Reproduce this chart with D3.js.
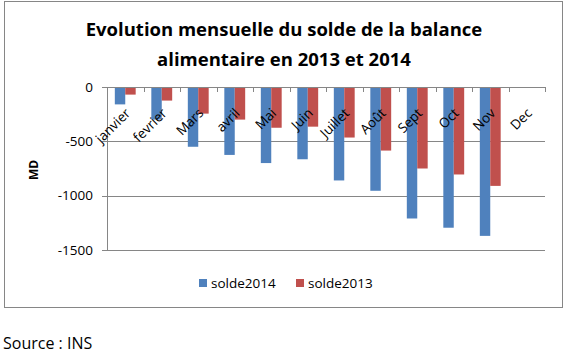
<!DOCTYPE html>
<html>
<head>
<meta charset="utf-8">
<script src="https://cdn.jsdelivr.net/npm/d3@7"></script>
<style>
  body { margin: 0; background: #fff; }
  svg text { font-family: "Open Sans", sans-serif; fill: #000; }
  .axis path, .axis line { stroke: #868686; shape-rendering: crispEdges; }
  .grid line { stroke: #868686; shape-rendering: crispEdges; }
  .grid path { display: none; }
</style>
</head>
<body>
<div id="chart"></div>
<script>
// data (MD)
var months = ["janvier", "fevrier", "Mars", "avril", "Mai", "Juin", "Juillet", "Août", "Sept", "Oct", "Nov", "Dec"];
var solde2014 = [-160, -300, -550, -625, -700, -665, -860, -955, -1210, -1295, -1370, null];
var solde2013 = [-70, -125, -245, -300, -375, -365, -465, -585, -750, -805, -910, null];
var seriesNames = ["solde2014", "solde2013"];
var yTicks = [0, -500, -1000, -1500];

var COLORS = { solde2014: "#4F81BD", solde2013: "#C0504D" };

var width = 565;
var height = 353;
var margins = { top: 87, right: 20, bottom: 103, left: 107 };
var chartWidth = 545 - margins.left;
var chartHeight = 250 - margins.top;

var svg = d3.select("#chart")
  .append("svg")
  .attr("width", width)
  .attr("height", height);

// outer frame
svg.append("rect")
  .attr("x", 4.5)
  .attr("y", 1.5)
  .attr("width", 558)
  .attr("height", 306)
  .attr("fill", "none")
  .attr("stroke", "#868686");

// title
var title = svg.append("text")
  .attr("text-anchor", "middle")
  .style("font-weight", "bold")
  .style("font-size", "18.5px");
title.append("tspan").attr("x", 284).attr("y", 36).text("Evolution mensuelle du solde de la balance");
title.append("tspan").attr("x", 284).attr("y", 66).text("alimentaire en 2013 et 2014");

var chartElement = svg.append("g")
  .attr("transform", `translate(${margins.left},${margins.top})`);

var xScale = d3.scaleBand()
  .domain(months)
  .range([0, chartWidth]);

var xInner = d3.scaleBand()
  .domain(seriesNames)
  .range([0, xScale.bandwidth()])
  .paddingOuter(0.75);

var yScale = d3.scaleLinear()
  .domain([-1500, 0])
  .range([chartHeight, 0]);

// grid
chartElement.append("g")
  .attr("class", "grid")
  .call(d3.axisLeft(yScale).tickValues(yTicks).tickSize(-chartWidth).tickFormat(""));

// bars
var groups = chartElement.append("g")
  .selectAll("g")
  .data(months)
  .enter()
  .append("g")
  .attr("transform", d => `translate(${xScale(d)},0)`);

groups.selectAll("rect")
  .data((d, i) => seriesNames.map(name => ({
    name: name,
    value: name == "solde2014" ? solde2014[i] : solde2013[i]
  })).filter(v => v.value != null))
  .enter()
  .append("rect")
  .attr("x", d => xInner(d.name))
  .attr("y", yScale(0))
  .attr("width", xInner.bandwidth())
  .attr("height", d => yScale(d.value) - yScale(0))
  .attr("fill", d => COLORS[d.name]);

// y axis
var yAxis = chartElement.append("g")
  .attr("class", "y axis")
  .call(d3.axisLeft(yScale)
    .tickValues(yTicks)
    .tickSize(5)
    .tickSizeOuter(0)
    .tickPadding(9)
    .tickFormat(d => String(d)));
yAxis.selectAll("text").style("font-size", "13.5px");

// x axis, ticks on category boundaries, going down
var xAxisG = chartElement.append("g").attr("class", "x axis");
xAxisG.append("line")
  .attr("x1", 0).attr("x2", chartWidth)
  .attr("y1", yScale(0) + 0.5).attr("y2", yScale(0) + 0.5);
xAxisG.selectAll(".tick-mark")
  .data(months.concat(["end"]))
  .enter()
  .append("line")
  .attr("class", "tick-mark")
  .attr("x1", (d, i) => i * xScale.step() + 0.5)
  .attr("x2", (d, i) => i * xScale.step() + 0.5)
  .attr("y1", yScale(0))
  .attr("y2", yScale(0) + 5);

xAxisG.selectAll(".month")
  .data(months)
  .enter()
  .append("text")
  .attr("class", "month")
  .attr("text-anchor", "end")
  .style("font-size", "13.5px")
  .attr("transform", d => `translate(${xScale(d) + xScale.bandwidth() / 2 + 6},${yScale(0) + 27}) rotate(-45)`)
  .text(d => d);

// axis title
svg.append("text")
  .attr("transform", "translate(38,170) rotate(-90)")
  .attr("text-anchor", "middle")
  .style("font-weight", "bold")
  .style("font-size", "12px")
  .text("MD");

// legend
var legend = svg.append("g")
  .selectAll("g")
  .data(seriesNames)
  .enter()
  .append("g")
  .attr("transform", (d, i) => `translate(${199 + i * 97},279)`);

legend.append("rect")
  .attr("width", 8)
  .attr("height", 8)
  .attr("fill", d => COLORS[d]);

legend.append("text")
  .attr("x", 12)
  .attr("y", 9)
  .style("font-size", "13.5px")
  .text(d => d);

// source
svg.append("text")
  .attr("x", 3)
  .attr("y", 349)
  .style("font-size", "16px")
  .text("Source : INS");
</script>
</body>
</html>
